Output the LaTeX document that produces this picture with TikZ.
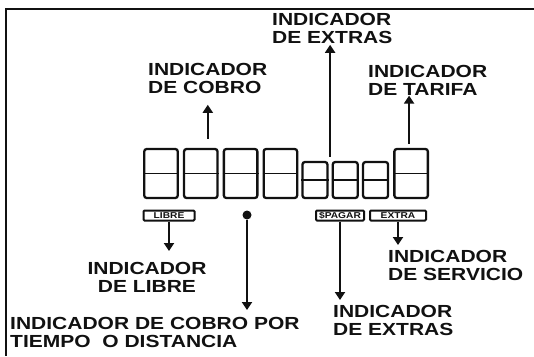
\documentclass[tikz,border=0pt]{standalone}
\usepackage{fontspec}
\usepackage{tikz}
\usetikzlibrary{positioning,arrows.meta,calc}
\newfontfamily\lblfont{Liberation Sans}[FakeStretch=1.2]
\definecolor{cInk}{HTML}{111111}

\begin{document}
\begin{tikzpicture}[
  x=1pt, y=-1pt,
  line/.style={-{Triangle[length=8pt,width=10pt]}, cInk, line width=2.1pt},
  bigdig/.style={draw=cInk, line width=2.3pt, rounded corners=2.5pt, minimum width=33.5pt, minimum height=49pt, inner sep=0pt},
  smalldig/.style={draw=cInk, line width=2.3pt, rounded corners=2.5pt, minimum width=25pt, minimum height=36pt, inner sep=0pt},
  mid/.style={cInk, line width=1.9pt},
  tag/.style={draw=cInk, line width=2pt, rounded corners=1pt, minimum height=10pt, inner sep=1pt, font=\lblfont\bfseries\fontsize{8.5}{8.5}\selectfont, text=cInk},
  lbl/.style={font=\lblfont\bfseries\fontsize{17.5}{18}\selectfont, text=cInk, inner sep=0pt, align=left, anchor=north west},
]
\useasboundingbox (0,0) rectangle (534,356);

% ---------- frame ----------
\draw[cInk, line width=1.5pt] (534,9) -- (6,9) -- (6,356);

% ---------- display digits ----------
\node[bigdig] (d1) at (161,173.5) {};
\node[bigdig, right=4pt of d1] (d2) {};
\node[bigdig, right=4pt of d2] (d3) {};
\node[bigdig, right=4pt of d3] (d4) {};
\node[smalldig, right=3pt of d4.south east, anchor=south west] (s1) {};
\node[smalldig, right=3pt of s1] (s2) {};
\node[smalldig, right=3pt of s2] (s3) {};
\node[bigdig, right=4pt of s3.south east, anchor=south west] (d5) {};
\draw[mid] (d1.west) -- (d1.east);
\draw[mid] (d2.west) -- (d2.east);
\draw[mid] (d3.west) -- (d3.east);
\draw[mid] (d4.west) -- (d4.east);
\draw[mid] (s1.west) -- (s1.east);
\draw[mid] (s2.west) -- (s2.east);
\draw[mid] (s3.west) -- (s3.east);
\draw[mid] (d5.west) -- (d5.east);

% ---------- indicator tags ----------
\node[tag, minimum width=51pt] (tagLibre) at (169,215.5) {LIBRE};
\node[circle, fill=cInk, minimum size=9pt, inner sep=0pt] (dot) at (247,215) {};
\node[tag, minimum width=48pt] (tagPagar) at (340,215.5) {\$PAGAR};
\node[tag, minimum width=56pt] (tagExtra) at (398,215.5) {EXTRA};

% ---------- labels ----------
\node[lbl] (tCobro) at (148,63) {INDICADOR\\DE COBRO};
\node[lbl] (tExtUp) at (272,13) {INDICADOR\\DE EXTRAS};
\node[lbl] (tTarifa) at (368,65) {INDICADOR\\DE TARIFA};
\node[lbl, align=center, anchor=north] (tLibre) at (147,262) {INDICADOR\\DE LIBRE};
\node[lbl] (tTiempo) at (10,317) {INDICADOR DE COBRO POR\\TIEMPO\ \ O DISTANCIA};
\node[lbl] (tExtDown) at (333,305) {INDICADOR\\DE EXTRAS};
\node[lbl] (tServ) at (388,250) {INDICADOR\\DE SERVICIO};

% arrows up
\coordinate (aCobro) at ($(d2.north)+(7,-9)$);
\coordinate (aExtras) at ($(s1.north east)!0.5!(s2.north west)+(0,-4)$);
\coordinate (aTarifa) at ($(d5.north)+(-2,-4)$);
\draw[line, shorten >=11pt] (aCobro) -- (aCobro |- tCobro.south);
\draw[line, shorten >=1pt] (aExtras) -- (aExtras |- tExtUp.south);
\draw[line] (aTarifa) -- (aTarifa |- tTarifa.south);

% arrows down
\draw[line, shorten >=11pt] (tagLibre.south) -- (tagLibre.south |- tLibre.north);
\draw[line, shorten >=7pt] (dot) -- (dot |- tTiempo.north);
\draw[line, shorten >=5pt] (tagPagar.south) -- (tagPagar.south |- tExtDown.north);
\draw[line, shorten >=5pt] (tagExtra.south) -- (tagExtra.south |- tServ.north);

\end{tikzpicture}
\end{document}
